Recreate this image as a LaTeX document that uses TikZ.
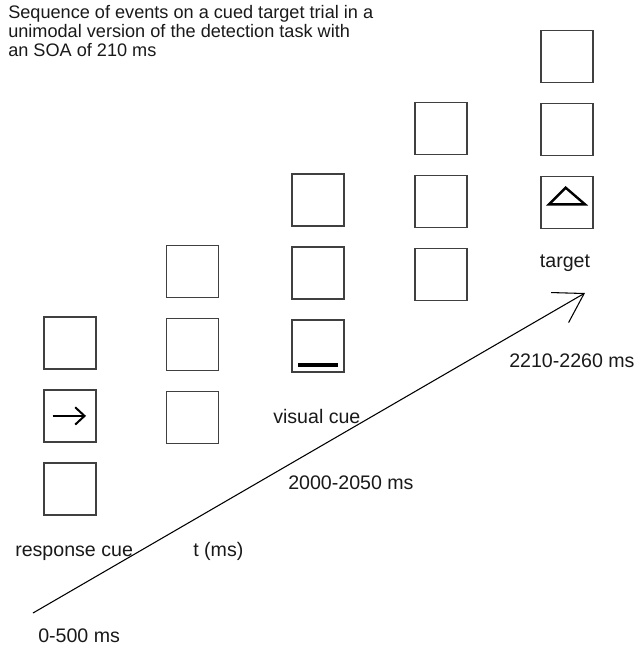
\documentclass[tikz,border=0pt]{standalone}
\usepackage{fontspec}
\setmainfont{Liberation Sans}
\usetikzlibrary{arrows.meta, positioning}

\begin{document}
\begin{tikzpicture}[
    x=0.75pt, y=-0.75pt,
    % ---------------------------------------------------------
    % STYLES
    % ---------------------------------------------------------
    frame/.style={
        rectangle,
        draw=black!75,
        line width=1.1pt,
        minimum size=39pt,
        inner sep=0pt
    },
    lbl/.style={
        font=\fontsize{14.7}{16.9}\selectfont,
        inner sep=0pt,
        text=black!90
    },
    time line/.style={
        draw=black,
        line width=0.8pt,
        -{Straight Barb[length=21pt, width=26pt, line width=0.8pt]}
    },
    node distance=14.6pt
]

\useasboundingbox (0,0) rectangle (637,645);

% ---------------------------------------------------------
% 1. TITLE
% ---------------------------------------------------------
\node[lbl, font=\fontsize{13.6}{14.6}\selectfont, anchor=base west, align=left] (title) at (8,57)
    {Sequence of events on a cued target trial in a\\
     unimodal version of the detection task with\\
     an SOA of 210 ms};

% ---------------------------------------------------------
% 2. FRAMES (one column per step)
% ---------------------------------------------------------
% response cue
\node[frame] (a1) at (70, 343) {};
\node[frame, below=of a1] (a2) {};
\node[frame, below=of a2] (a3) {};

% interval
\node[frame] (b1) at (192.5, 271.5) {};
\node[frame, below=of b1] (b2) {};
\node[frame, below=of b2] (b3) {};

% visual cue
\node[frame] (c1) at (318, 200) {};
\node[frame, below=of c1] (c2) {};
\node[frame, below=of c2] (c3) {};

% SOA
\node[frame] (d1) at (441, 128.5) {};
\node[frame, below=of d1] (d2) {};
\node[frame, below=of d2] (d3) {};

% target
\node[frame] (e1) at (567, 56.5) {};
\node[frame, below=of e1] (e2) {};
\node[frame, below=of e2] (e3) {};

% ---------------------------------------------------------
% 3. STIMULI INSIDE THE FRAMES
% ---------------------------------------------------------
\draw[line width=1.5pt, -{Straight Barb[length=7pt, width=13pt]}]
    ([xshift=-13pt]a2.center) -- ([xshift=12pt]a2.center);

\draw[line width=3pt]
    ([xshift=-15pt, yshift=-14pt]c3.center) -- ([xshift=15pt, yshift=-14pt]c3.center);

\draw[line width=1.8pt, line join=miter]
    ([xshift=-13.5pt, yshift=-1.5pt]e3.center)
    -- ([xshift=13.5pt, yshift=-1.5pt]e3.center)
    -- ([xshift=-1pt, yshift=11pt]e3.center) -- cycle;

% ---------------------------------------------------------
% 4. TIME AXIS
% ---------------------------------------------------------
\coordinate (t0) at (33, 613);
\coordinate (t1) at (585, 293);
\draw[time line] (t0) -- (t1);

% ---------------------------------------------------------
% 5. LABELS
% ---------------------------------------------------------
\node[lbl, anchor=base west] (lblResp) at (15, 556) {response cue};
\node[lbl, anchor=base west] (lblAxis) at (193, 556) {t (ms)};
\node[lbl, anchor=base west] (lblStart) at (38, 642) {0-500 ms};
\node[lbl, anchor=base west] (lblVis) at (273, 423) {visual cue};
\node[lbl, anchor=base west] (lblVisT) at (288, 489) {2000-2050 ms};
\node[lbl, anchor=base] (lblTarget) at (565, 267) {target};
\node[lbl, anchor=base west] (lblTargetT) at (509, 367) {2210-2260 ms};

\end{tikzpicture}
\end{document}
